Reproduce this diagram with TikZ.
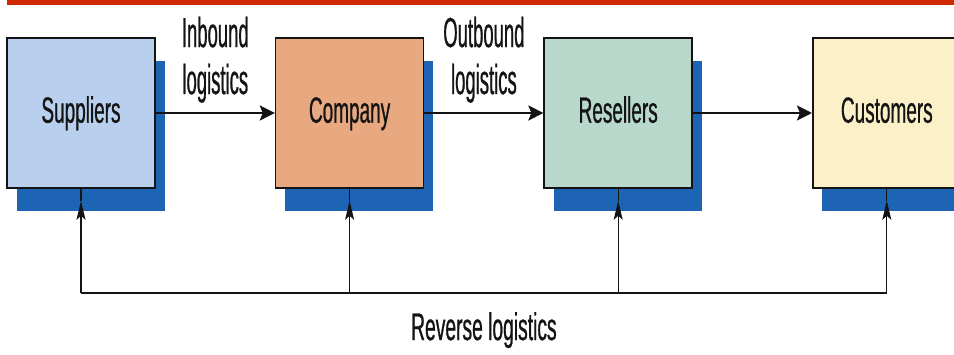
\documentclass[tikz,border=0pt]{standalone}
\usepackage{fontspec}
\setmainfont{Liberation Sans}[FakeStretch=0.52,FakeBold=0.6]
\newfontfamily\lblfont{Liberation Sans}[FakeStretch=0.44,FakeBold=0.6]
\newfontfamily\revfont{Liberation Sans}[FakeStretch=0.5,FakeBold=0.6]
\usetikzlibrary{arrows.meta,positioning,shadows,calc}
\definecolor{supfill}{RGB}{184,208,238}
\definecolor{comfill}{RGB}{232,168,128}
\definecolor{resfill}{RGB}{184,216,204}
\definecolor{cusfill}{RGB}{252,240,200}
\definecolor{shadeblue}{RGB}{30,100,180}
\definecolor{topred}{RGB}{208,40,0}
\definecolor{ink}{RGB}{20,20,20}
\begin{document}
\begin{tikzpicture}[x=1pt,y=1pt,node distance=119pt]
  \tikzstyle{stage}=[draw=ink,line width=1.6pt,minimum width=148pt,minimum height=150pt,inner sep=0pt,
    text=ink,font=\fontsize{36.5}{44}\selectfont,text height=26pt,text depth=6.6pt,
    drop shadow={shadow xshift=9.5pt,shadow yshift=-23.5pt,fill=shadeblue,opacity=1}]
  \tikzstyle{lbl}=[align=center,inner sep=0pt,text=ink,font=\lblfont\fontsize{42}{47}\selectfont]
  \tikzstyle{flow}=[draw=ink,line width=2.5pt,-{Stealth[length=15pt,width=15pt,inset=3pt]}]
  \tikzstyle{back}=[draw=ink,line width=1.3pt]
  \useasboundingbox (0,0) rectangle (954,354);
  \fill[topred] (7,349) rectangle (954,354);
  \node[stage,fill=supfill] (sup) at (81,241) {Suppliers};
  \node[stage,fill=comfill,right=of sup] (com) {Company};
  \node[stage,fill=resfill,right=of com] (res) {Resellers};
  \node[stage,fill=cusfill,right=of res] (cus) {Customers};
  \draw[flow] (sup) -- (com);
  \draw[flow] (com) -- (res);
  \draw[flow] (res) -- (cus);
  \node[lbl,above=10pt of $(sup.east)!0.5!(com.west)$] (inb) {Inbound\\logistics};
  \node[lbl,above=10pt of $(com.east)!0.5!(res.west)$] (outb) {Outbound\\logistics};
  % reverse flow
  \coordinate (rev) at (0,61);
  \foreach \b in {sup,com,res,cus}{
    \coordinate (\b-r) at (\b.south |- rev);
    \coordinate (\b-t) at ([yshift=-12pt]\b.south);
    \draw[back,-{Stealth[length=19pt,width=9pt,inset=4pt]}] (\b-r) -- (\b-t);
    \draw[back] (\b-t) -- (\b.south);
  }
  \draw[draw=ink,line width=2.8pt] (sup-r) -- (cus-r);
  \coordinate (mid) at ($(com-r)!0.5!(res-r)$);
  \node[lbl,font=\revfont\fontsize{38.5}{44}\selectfont,below=19pt of mid] (revl) {Reverse logistics};
\end{tikzpicture}
\end{document}
